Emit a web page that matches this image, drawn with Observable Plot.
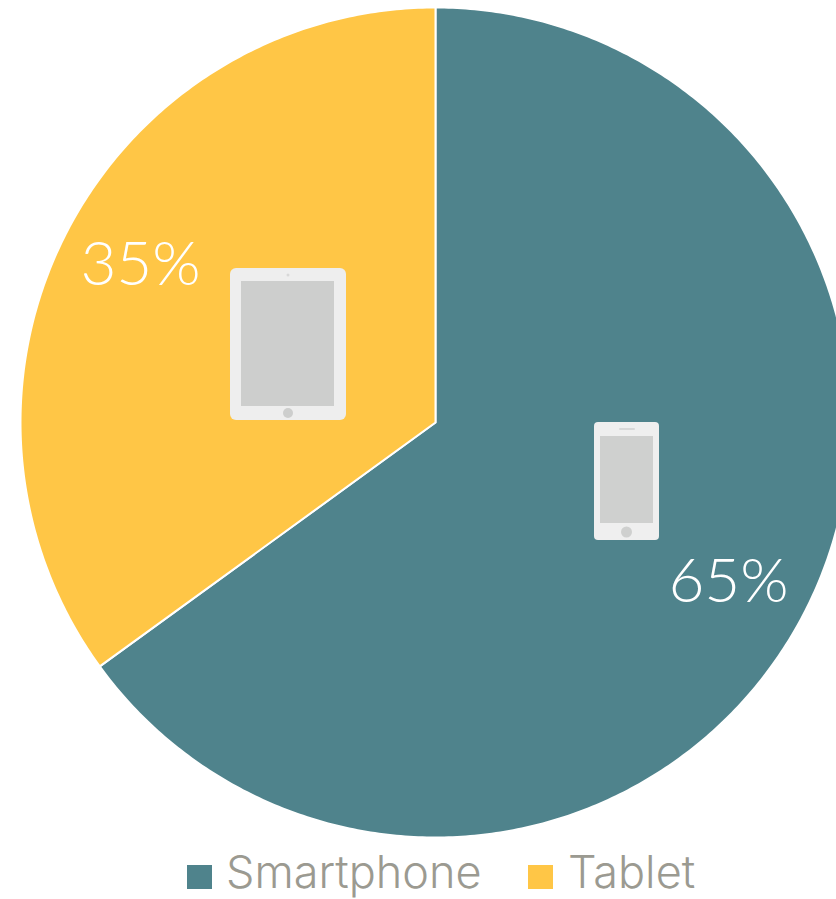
<!DOCTYPE html>
<html><head><meta charset="utf-8">
<script src="https://cdn.jsdelivr.net/npm/d3@7"></script>
<script src="https://cdn.jsdelivr.net/npm/@observablehq/plot@0.6"></script>
<style>
html,body{margin:0;padding:0;background:#fff;overflow:hidden}
#legend{position:absolute;left:0;top:849px;width:836px;height:50px;font-family:Inter,sans-serif;font-weight:300;font-size:45px;color:#9b9a91}
#legend span{position:absolute;top:0;line-height:46px;white-space:nowrap}
#legend i{position:absolute;top:16px;width:25px;height:24px}
svg text{font-family:Lato,sans-serif;font-weight:300}
</style></head><body>
<div id="chart"></div><div id="legend"></div>
<script>
const categories=["Smartphone","Tablet"];
const shares=[65,35];
const labels=["65%","35%"];
const colors=["#4f838c","#ffc646"];
const W=836,H=899,cx=435,cy=422,R=415;
const acc=d3.cumsum(shares);
const pts=[];
categories.forEach((c,i)=>{
  const a0=(i?acc[i-1]:0)/100*2*Math.PI,a1=acc[i]/100*2*Math.PI;
  pts.push({c,dx:0,dy:0});
  const n=Math.ceil(shares[i]*6);
  for(let k=0;k<=n;k++){const a=a0+(a1-a0)*k/n;pts.push({c,dx:Math.sin(a)*R,dy:-Math.cos(a)*R});}
});
const labelPos=[{t:labels[0],x:728,y:582},{t:labels[1],x:140,y:265}];
function tablet(){const g=d3.create("svg:g").attr("transform","translate(230,268)");
 g.append("rect").attr("width",116).attr("height",152).attr("rx",6).attr("fill","#eeeeee");
 g.append("rect").attr("x",11).attr("y",13).attr("width",93).attr("height",125).attr("fill","#cdcecd");
 g.append("circle").attr("cx",58).attr("cy",145).attr("r",5).attr("fill","#cdcecd");
 g.append("circle").attr("cx",58).attr("cy",7).attr("r",1.5).attr("fill","#d8d8d8");
 return g.node();}
function phone(){const g=d3.create("svg:g").attr("transform","translate(594,422)");
 g.append("rect").attr("width",65).attr("height",118).attr("rx",4).attr("fill","#efefef");
 g.append("rect").attr("x",6).attr("y",14).attr("width",53).attr("height",87).attr("fill","#cfd0cf");
 g.append("circle").attr("cx",32.5).attr("cy",110).attr("r",5.5).attr("fill","#cfd0cf");
 g.append("rect").attr("x",25).attr("y",6).attr("width",16).attr("height",2).attr("rx",1).attr("fill","#d8d8d8");
 return g.node();}
const plot=Plot.plot({width:W,height:845,margin:0,
 x:{type:"identity",axis:null},y:{type:"identity",axis:null},
 marks:[
  Plot.line(pts,{x:d=>cx+d.dx,y:d=>cy+d.dy,z:"c",fill:d=>colors[categories.indexOf(d.c)],stroke:"#fff",strokeWidth:2,curve:"linear-closed"}),
  tablet,phone,
  Plot.text(labelPos,{x:"x",y:"y",text:"t",fill:"#fff",fontSize:62})
 ]});
document.getElementById("chart").appendChild(plot);
const lg=document.getElementById("legend");
[[187,226],[528,568]].forEach(([sx,tx],i)=>{
 const b=document.createElement("i");b.style.left=sx+"px";b.style.background=colors[i];lg.appendChild(b);
 const s=document.createElement("span");s.style.left=tx+"px";s.textContent=categories[i];lg.appendChild(s);
});
</script></body></html>
